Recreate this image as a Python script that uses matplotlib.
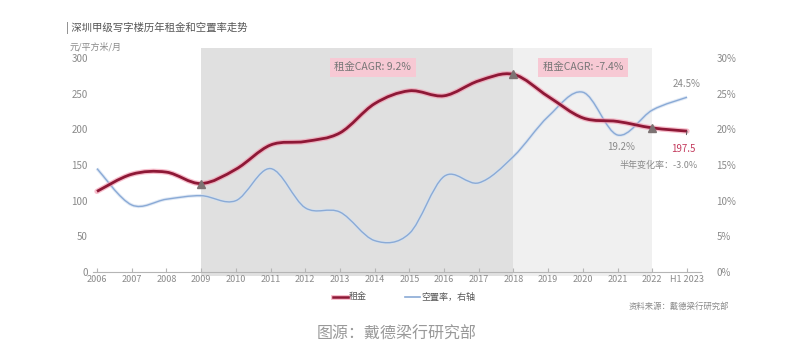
import matplotlib
matplotlib.use("Agg")
import matplotlib.pyplot as plt
from matplotlib.path import Path
from matplotlib.patches import PathPatch, Rectangle
import numpy as np

plt.rcParams["font.family"] = ["Noto Sans CJK SC", "DejaVu Sans"]

# data
years = ["2006", "2007", "2008", "2009", "2010", "2011", "2012", "2013", "2014",
         "2015", "2016", "2017", "2018", "2019", "2020", "2021", "2022", "H1 2023"]
rent = [113, 137, 140, 124, 144, 178, 183, 195, 236, 254, 247, 268, 277,
        246, 216, 211, 202, 197.5]
vacancy = [14.5, 9.4, 10.2, 10.7, 10.0, 14.5, 9.0, 8.4, 4.4, 5.4, 13.4, 12.5,
           16.2, 21.8, 25.2, 19.2, 22.7, 24.5]
marker_idx = [3, 12, 16]  # 2009, 2018, 2022
left_ticks = [0, 50, 100, 150, 200, 250, 300]
right_ticks = [0, 5, 10, 15, 20, 25, 30]

GRAY = "#8a8a8a"
RED = "#8e1836"
PINK = "#f39ab0"
BLUE = "#8aaad6"


def smooth_path(x, y):
    """Excel style smoothed line as cubic bezier segments."""
    pts = np.column_stack([x, y]).astype(float)
    verts = [pts[0]]
    codes = [Path.MOVETO]
    n = len(pts)
    for i in range(n - 1):
        p0 = pts[i - 1] if i > 0 else pts[i]
        p1, p2 = pts[i], pts[i + 1]
        p3 = pts[i + 2] if i + 2 < n else pts[i + 1]
        c1 = p1 + (p2 - p0) / 6
        c2 = p2 - (p3 - p1) / 6
        verts += [c1, c2, p2]
        codes += [Path.CURVE4] * 3
    return Path(verts, codes)


fig = plt.figure(figsize=(7.93, 3.62), dpi=100)
ax = fig.add_axes([0.1179, 0.2486, 0.766, 0.5912])
ax2 = ax.twinx()
ax.set_zorder(ax2.get_zorder() + 1)
ax.patch.set_visible(False)

x = np.arange(len(years))
ax.set_xlim(-0.1, 17.4)
ax.set_ylim(0, 300)
ax2.set_ylim(0, 30)

# shaded periods
ax2.add_patch(Rectangle((3, -0.55), 9, 31.95, facecolor="#e0e0e0",
                        edgecolor="none", clip_on=False, zorder=0))
ax2.add_patch(Rectangle((12, -0.55), 4, 31.95, facecolor="#f0f0f0",
                        edgecolor="none", clip_on=False, zorder=0))

# vacancy (right axis)
vp = smooth_path(x, vacancy)
ax2.add_patch(PathPatch(vp, facecolor="none", edgecolor="#d3e0f1", lw=2.4,
                        alpha=0.7, zorder=2))
ax2.add_patch(PathPatch(vp, facecolor="none", edgecolor=BLUE, lw=1.0, zorder=3))

# rent (left axis)
rp = smooth_path(x, rent)
ax.add_patch(PathPatch(rp, facecolor="none", edgecolor=PINK, lw=3.8,
                       alpha=0.65, zorder=4, capstyle="round"))
ax.add_patch(PathPatch(rp, facecolor="none", edgecolor=RED, lw=2.0, zorder=5))
ax.plot(x[marker_idx], [rent[i] for i in marker_idx], linestyle="none",
        marker="^", markersize=6, color="#7d7373", zorder=6)

# axes styling
for a in (ax, ax2):
    for s in a.spines.values():
        s.set_visible(False)
ax.axhline(0, color="#b5b5b5", lw=0.8, zorder=1, clip_on=False)
ax.set_xticks(x)
ax.set_xticklabels(years)
ax.tick_params(axis="x", direction="in", length=3, color="#b5b5b5",
               labelsize=6.5, labelcolor=GRAY, pad=2)
ax.set_yticks(left_ticks)
ax.tick_params(axis="y", length=0, labelsize=7, labelcolor=GRAY, pad=4)
ax2.set_yticks(right_ticks)
ax2.set_yticklabels([f"{t}%" for t in right_ticks])
ax2.tick_params(axis="y", length=0, labelsize=7, labelcolor=GRAY, pad=11)

# CAGR boxes
box = dict(boxstyle="square,pad=0.45", facecolor="#f7c9d4", edgecolor="none")
ax.text(7.95, 287, "租金CAGR: 9.2%", ha="center", va="center", fontsize=7.5,
        color="#777777", bbox=box, zorder=7)
ax.text(14.0, 287, "租金CAGR: -7.4%", ha="center", va="center", fontsize=7.5,
        color="#777777", bbox=box, zorder=7)

# annotations
ax2.text(17.0, 25.6, "24.5%", ha="center", va="bottom", fontsize=7, color=GRAY)
ax2.text(15.1, 18.2, "19.2%", ha="center", va="top", fontsize=7, color=GRAY)
ax.annotate("197.5", xy=(17, rent[-1]), xytext=(16.9, 172),
            ha="center", va="center", fontsize=7, color="#c33a5c",
            arrowprops=dict(arrowstyle="-", color="#555555", lw=0.7,
                            shrinkA=5, shrinkB=0), zorder=8)
ax.text(17.3, 150, "半年变化率：-3.0%", ha="right", va="center", fontsize=6.5,
        color=GRAY)

# header texts
fig.text(0.083, 0.922, "| 深圳甲级写字楼历年租金和空置率走势", fontsize=7.5,
         color="#555555", va="center")
fig.text(0.088, 0.872, "元/平方米/月", fontsize=6.5, color=GRAY, va="center")

# legend
fig.add_artist(plt.Line2D([333 / 793, 348 / 793], [1 - 297 / 362] * 2,
                          color=PINK, lw=3.5, alpha=0.65))
fig.add_artist(plt.Line2D([333 / 793, 348 / 793], [1 - 297 / 362] * 2,
                          color=RED, lw=1.8))
fig.text(349 / 793, 1 - 297 / 362, "租金", fontsize=6.5, color="#555555",
         va="center")
fig.add_artist(plt.Line2D([405 / 793, 420 / 793], [1 - 297 / 362] * 2,
                          color=BLUE, lw=1.2))
fig.text(421 / 793, 1 - 297 / 362, "空置率，右轴", fontsize=6.5, color="#555555",
         va="center")

fig.text(729 / 793, 1 - 306 / 362, "资料来源：戴德梁行研究部", fontsize=6,
         color=GRAY, ha="right", va="center")
fig.text(0.5, 1 - 334 / 362, "图源：戴德梁行研究部", fontsize=11.5,
         color="#999999", ha="center", va="center")

fig.savefig("out.png", dpi=100)
